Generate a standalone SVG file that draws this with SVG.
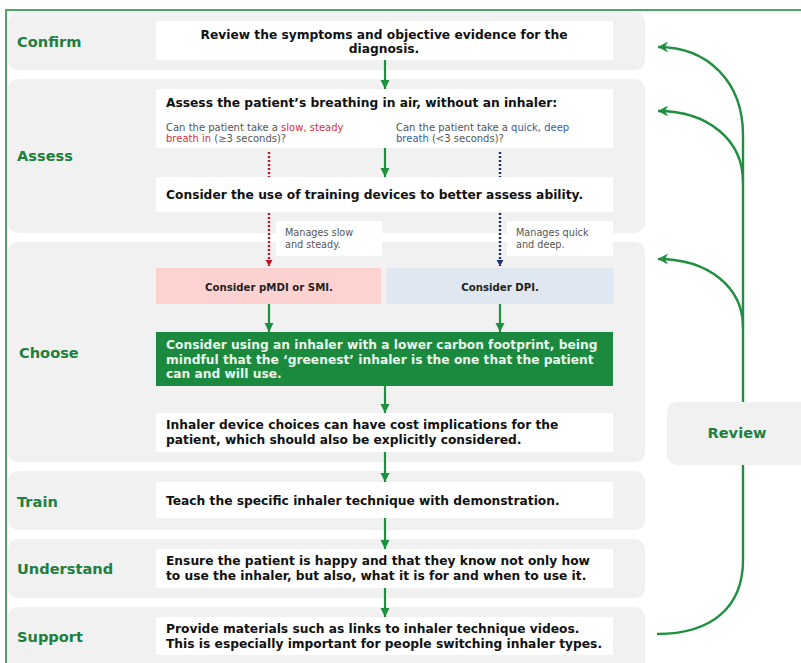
<svg xmlns="http://www.w3.org/2000/svg" width="801" height="663" viewBox="0 0 801 663">
<defs>
<style>
.panel{fill:#f1f1f1}
.box{fill:#ffffff}
.lbl{font-family:"DejaVu Sans",Verdana,sans-serif;font-weight:bold;font-size:14.6px;fill:#1e7f3e}
.t{font-family:"DejaVu Sans",Verdana,sans-serif;font-weight:bold;font-size:12.25px;fill:#111}
.tw{font-family:"DejaVu Sans",Verdana,sans-serif;font-weight:bold;font-size:12.25px;fill:#eaf6ea}
.s{font-family:"DejaVu Sans",Verdana,sans-serif;font-size:10px;fill:#555}
.sm{font-family:"DejaVu Sans",Verdana,sans-serif;font-size:9.7px;fill:#555}
.sb{font-family:"DejaVu Sans",Verdana,sans-serif;font-weight:bold;font-size:10.2px;fill:#222}
.red{fill:#d8303a}
.blu{fill:#3d5a9c}
.arr{stroke:#1e9040;stroke-width:2.2;fill:none;marker-end:url(#ga)}
.rev{stroke:#1e9040;stroke-width:2.4;fill:none}
.dr{stroke:#cc1020;stroke-width:2.4;stroke-dasharray:2 2;fill:none}
.db{stroke:#1a2f6e;stroke-width:2.4;stroke-dasharray:2 2;fill:none}
</style>
<marker id="ga" markerUnits="userSpaceOnUse" markerWidth="10" markerHeight="10" refX="9" refY="5" orient="auto"><path d="M0,0.5 L9,5 L0,9.5 Z" fill="#1e9040"/></marker>
<marker id="ra" markerUnits="userSpaceOnUse" markerWidth="8" markerHeight="8" refX="6" refY="4" orient="auto"><path d="M0,0.5 L6,4 L0,7.5 Z" fill="#cc1020"/></marker>
<marker id="ba" markerUnits="userSpaceOnUse" markerWidth="8" markerHeight="8" refX="6" refY="4" orient="auto"><path d="M0,0.5 L6,4 L0,7.5 Z" fill="#1a2f6e"/></marker>
<marker id="ra2" markerUnits="userSpaceOnUse" markerWidth="12" markerHeight="12" refX="10" refY="6" orient="auto"><path d="M0,0.5 L10,6 L0,11.5 L3,6 Z" fill="#1e9040"/></marker>
</defs>
<rect x="6" y="10" width="810" height="670" fill="none" stroke="#1e9040" stroke-width="1.6"/>
<g id="panels">
<rect class="panel" x="8" y="12" width="637" height="58" rx="10"/>
<rect class="panel" x="8" y="79" width="637" height="154" rx="10"/>
<rect class="panel" x="8" y="242" width="637" height="220" rx="10"/>
<rect class="panel" x="8" y="471" width="637" height="59" rx="10"/>
<rect class="panel" x="8" y="539" width="637" height="59" rx="10"/>
<rect class="panel" x="8" y="607" width="637" height="70" rx="10"/>
</g>
<g id="confirm">
<text class="lbl" x="17" y="47">Confirm</text>
<rect class="box" x="156" y="21" width="457" height="39"/>
<text class="t" x="384" y="38.5" text-anchor="middle">Review the symptoms and objective evidence for the</text>
<text class="t" x="384" y="52.5" text-anchor="middle">diagnosis.</text>
</g>
<g id="assess">
<text class="lbl" x="17" y="161">Assess</text>
<rect class="box" x="156" y="89" width="457" height="59"/>
<text class="t" x="166" y="106.5">Assess the patient’s breathing in air, without an inhaler:</text>
<text class="s" x="166" y="131">Can the patient take a <tspan class="red">slow, steady</tspan></text>
<text class="s" x="166" y="142"><tspan class="red">breath in</tspan> (≥3 seconds)?</text>
<text class="s" x="396" y="131">Can the patient take a <tspan class="blu">quick, deep</tspan></text>
<text class="s" x="396" y="142"><tspan class="blu">breath</tspan> (&lt;3 seconds)?</text>
</g>
<g id="training">
<rect class="box" x="156" y="177" width="457" height="35"/>
<text class="t" x="166" y="199">Consider the use of training devices to better assess ability.</text>
</g>
<g id="manages-slow">
<rect class="box" x="276" y="221" width="106" height="35"/>
<text class="sm" x="285" y="236">Manages slow</text>
<text class="sm" x="285" y="247.5">and steady.</text>
</g>
<g id="manages-quick">
<rect class="box" x="507" y="221" width="106" height="35"/>
<text class="sm" x="516" y="236">Manages quick</text>
<text class="sm" x="516" y="247.5">and deep.</text>
</g>
<g id="choose">
<text class="lbl" x="19" y="358">Choose</text>
</g>
<g id="pmdi">
<rect x="156" y="268" width="225" height="36" fill="#ffd2d2"/>
<text class="sb" x="269" y="291" text-anchor="middle">Consider pMDI or SMI.</text>
</g>
<g id="dpi">
<rect x="387" y="268" width="226" height="36" fill="#dfe7f0"/>
<text class="sb" x="500" y="291" text-anchor="middle">Consider DPI.</text>
</g>
<g id="green">
<rect x="156" y="332" width="457" height="54" fill="#1b8a3e"/>
<text class="tw" x="166" y="349">Consider using an inhaler with a lower carbon footprint, being</text>
<text class="tw" x="166" y="363.5">mindful that the ‘greenest’ inhaler is the one that the patient</text>
<text class="tw" x="166" y="378">can and will use.</text>
</g>
<g id="cost">
<rect class="box" x="156" y="413" width="457" height="39"/>
<text class="t" x="166" y="429">Inhaler device choices can have cost implications for the</text>
<text class="t" x="166" y="444">patient, which should also be explicitly considered.</text>
</g>
<g id="train">
<text class="lbl" x="17" y="507">Train</text>
<rect class="box" x="156" y="482" width="457" height="36"/>
<text class="t" x="166" y="505">Teach the specific inhaler technique with demonstration.</text>
</g>
<g id="understand">
<text class="lbl" x="17" y="574">Understand</text>
<rect class="box" x="156" y="549" width="457" height="39"/>
<text class="t" x="166" y="565">Ensure the patient is happy and that they know not only how</text>
<text class="t" x="166" y="580">to use the inhaler, but also, what it is for and when to use it.</text>
</g>
<g id="support">
<text class="lbl" x="17" y="642">Support</text>
<rect class="box" x="156" y="617" width="457" height="38"/>
<text class="t" x="166" y="633">Provide materials such as links to inhaler technique videos.</text>
<text class="t" x="166" y="648">This is especially important for people switching inhaler types.</text>
</g>
<g id="review">
<rect class="panel" x="667" y="402" width="150" height="63" rx="10"/>
<text class="lbl" x="737" y="438" text-anchor="middle">Review</text>
</g>
<g id="connectors">
<path class="arr" d="M385,60 V89"/>
<path class="arr" d="M385,148 V177"/>
<path class="dr" d="M269,152 V177"/>
<path class="db" d="M500,152 V177"/>
<path class="dr" d="M269,213 V266" marker-end="url(#ra)"/>
<path class="db" d="M500,213 V266" marker-end="url(#ba)"/>
<path class="arr" d="M269,304 V332"/>
<path class="arr" d="M500,304 V332"/>
<path class="arr" d="M385,386 V413"/>
<path class="arr" d="M385,452 V482"/>
<path class="arr" d="M385,518 V549"/>
<path class="arr" d="M385,588 V617"/>
<path class="rev" d="M743,402 V135 C743,82 708,47 658,47" marker-end="url(#ra2)"/>
<path class="rev" d="M743,182 C743,140 708,111 658,111" marker-end="url(#ra2)"/>
<path class="rev" d="M743,327 C743,287 708,259 658,259" marker-end="url(#ra2)"/>
<path class="rev" d="M743,465 V560 C743,607 712,634 657,634"/>
</g>
</svg>
